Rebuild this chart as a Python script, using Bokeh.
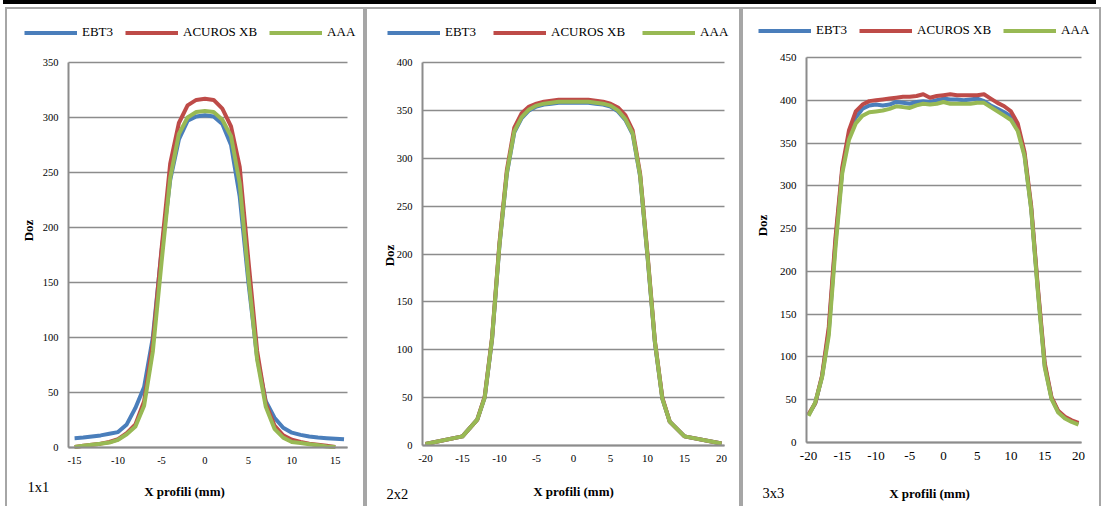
from math import pi
from bokeh.plotting import figure
from bokeh.models import Legend, LegendItem, Label, FixedTicker, Div, Range1d, Grid
from bokeh.layouts import row, column
from bokeh.embed import file_html
from bokeh.resources import INLINE

SERIES = ["EBT3", "ACUROS XB", "AAA"]
COLORS = ["#4a7ebb", "#be4b48", "#98b954"]
FONT = "Liberation Serif"

# ---- 1x1 field ----
x_1x1_ebt3 = list(range(-15, 17))
ebt3_1x1 = [8.5, 9, 10, 11, 12.5, 14, 21, 36, 55, 100, 178, 243, 280, 297, 301, 302,
            301, 294, 275, 228, 150, 82, 42, 27, 18, 13.5, 11.5, 10, 9, 8.5, 8, 7.5]
x_1x1 = list(range(-15, 16))
acuros_1x1 = [0.5, 1.5, 2.5, 3.5, 5, 7.5, 13, 21, 42, 95, 180, 258, 295, 311, 316, 317,
              316, 308, 292, 255, 170, 88, 40, 20, 11, 7, 5, 3.5, 2.5, 1.5, 0.5]
aaa_1x1 = [0.5, 1.5, 2.5, 3.5, 4.5, 7, 12, 19, 38, 87, 168, 245, 285, 300, 305, 306,
           305, 298, 283, 240, 155, 80, 37, 17, 9, 5, 4, 3, 2, 1, 0.5]

# ---- 2x2 field ----
x_2x2 = [-20, -15, -13, -12, -11, -10, -9, -8, -7, -6, -5, -4, -3, -2, -1, 0,
         1, 2, 3, 4, 5, 6, 7, 8, 9, 10, 11, 12, 13, 15, 20]
ebt3_2x2 = [1.5, 9.5, 27, 50, 111, 209, 284, 327, 342, 350, 354, 356, 357, 358, 358, 358,
            358, 358, 357, 356, 354, 349, 340, 325, 281, 197, 107, 49, 25, 9.5, 2]
acuros_2x2 = [1.5, 9.5, 27, 51, 113, 212, 288, 332, 347, 354, 357, 359, 360, 361, 361, 361,
              361, 361, 360, 359, 357, 353, 345, 329, 284, 200, 109, 50, 25, 9.5, 2]
aaa_2x2 = [1.5, 9.5, 27, 50, 112, 210, 285, 328, 343, 351, 355, 357, 358, 359, 359, 359,
           359, 359, 358, 357, 355, 350, 341, 326, 282, 198, 108, 49, 25, 9.5, 2]

# ---- 3x3 field ----
x_3x3 = list(range(-20, 21))
ebt3_3x3 = [32, 46, 77, 130, 235, 318, 360, 380, 390, 394, 395, 394, 395, 398, 397, 396,
            398, 399, 398, 400, 402, 401, 401, 400, 401, 402, 399, 394, 390, 386, 381,
            368, 337, 273, 177, 90, 52, 36, 29, 25, 22]
acuros_3x3 = [33, 46, 78, 135, 240, 322, 365, 387, 395, 399, 400, 401, 402, 403, 404, 404,
              405, 407, 403, 405, 406, 407, 406, 406, 406, 406, 407, 402, 397, 393, 387,
              373, 340, 276, 180, 93, 53, 37, 30, 26, 23]
aaa_3x3 = [31, 47, 76, 125, 228, 315, 354, 373, 382, 386, 387, 388, 390, 393, 392, 391,
           394, 396, 395, 396, 398, 396, 396, 396, 396, 397, 397, 392, 387, 382, 377,
           364, 335, 272, 175, 88, 51, 35, 28, 24, 21]

X_TITLE = "X profili (mm)"
Y_TITLE = "Doz"
TAGS = ["1x1", "2x2", "3x3"]

ticks_1x1 = [-15, -10, -5, 0, 5, 10, 15]
ticks_20 = [-20, -15, -10, -5, 0, 5, 10, 15, 20]
x_limits_1x1 = (-15.7, 16.4)
x_limits_2x2 = (-20.4, 20.4)
x_limits_3x3 = (-20.3, 20.45)
y_max = [350, 400, 450]

GRID = "#8c8c8c"
PANEL_STYLE = {"background-color": "white",
               "box-shadow": "inset 2px 2px 0 #a6a6a6, inset -2px 0 0 #a6a6a6"}
HAS_CROSS = "cross_bounds" in Grid.properties()


def panel(series, w, h, area, xlim, ymax, xticks, xtick_size, ytick_size, xstand,
          leg_loc, leg_spacing, xt_pos, yt_pos, tag, tag_pos):
    # area: plot-area box inside the canvas, in pixels (left, right, top, bottom)
    al, ar, at, ab = area
    sx = (ar - al) / (xlim[1] - xlim[0])
    sy = (ab - at) / ymax
    xr = Range1d(xlim[0] - al / sx, xlim[1] + (w - ar) / sx)
    yr = Range1d(-(h - ab) / sy, ymax + at / sy)
    p = figure(width=w, height=h, x_range=xr, y_range=yr,
               output_backend="svg", toolbar_location=None,
               min_border=0)
    p.styles = PANEL_STYLE
    p.outline_line_color = None
    p.background_fill_alpha = 0
    p.border_fill_alpha = 0

    yt = list(range(0, ymax + 1, 50))
    if HAS_CROSS:
        p.ygrid.bounds = (0, ymax)
        p.ygrid.cross_bounds = xlim
        p.ygrid.grid_line_color = GRID
        p.ygrid.grid_line_width = 1.5
        p.ygrid.ticker = FixedTicker(ticks=yt)
    else:
        p.ygrid.visible = False
        p.segment(x0=[xlim[0]] * len(yt), x1=[xlim[1]] * len(yt), y0=yt, y1=yt,
                  line_color=GRID, line_width=1.5)
    p.xgrid.visible = False

    rs = []
    for (xs, ys), c in zip(series, COLORS):
        rs.append(p.line(xs, ys, line_color=c, line_width=4, line_join="round"))
    leg = Legend(items=[LegendItem(label=s, renderers=[r]) for s, r in zip(SERIES, rs)],
                 orientation="horizontal", location=leg_loc, spacing=leg_spacing,
                 padding=0, margin=0, glyph_width=53, glyph_height=13,
                 label_height=13, label_standoff=5,
                 label_text_font=FONT, label_text_font_size="13px",
                 label_text_color="black",
                 border_line_color=None, background_fill_alpha=0)
    p.add_layout(leg, "center")

    p.xaxis.ticker = FixedTicker(ticks=xticks)
    p.yaxis.ticker = FixedTicker(ticks=yt)
    p.xaxis.major_label_overrides = {t: str(t) for t in xticks}
    p.xaxis.fixed_location = 0
    p.xaxis.bounds = xlim
    p.yaxis.fixed_location = xlim[0]
    p.yaxis.bounds = (0, ymax)
    for ax, size in ((p.xaxis, xtick_size), (p.yaxis, ytick_size)):
        ax.major_tick_line_color = None
        ax.minor_tick_line_color = None
        ax.major_tick_out = 0
        ax.major_tick_in = 0
        ax.axis_line_color = GRID
        ax.axis_line_width = 2
        ax.major_label_text_font = FONT
        ax.major_label_text_font_size = size
        ax.major_label_text_color = "black"
    p.xaxis.major_label_standoff = xstand
    p.yaxis.major_label_standoff = 10

    p.add_layout(Label(x=xt_pos[0], y=xt_pos[1], x_units="screen", y_units="screen",
                       text=X_TITLE, text_font=FONT, text_font_size="13px",
                       text_font_style="bold", text_align="center",
                       text_baseline="middle", text_color="black"))
    p.add_layout(Label(x=yt_pos[0], y=yt_pos[1], x_units="screen", y_units="screen",
                       text=Y_TITLE, text_font=FONT, text_font_size="13px",
                       text_font_style="bold", text_align="center",
                       text_baseline="middle", angle=pi / 2, text_color="black"))
    p.add_layout(Label(x=tag_pos[0], y=tag_pos[1], x_units="screen", y_units="screen",
                       text=tag, text_font=FONT, text_font_size="14.5px",
                       text_align="left", text_baseline="middle", text_color="black"))
    return p


p1 = panel([(x_1x1_ebt3, ebt3_1x1), (x_1x1, acuros_1x1), (x_1x1, aaa_1x1)],
           360, 499, (63, 342, 55, 440), x_limits_1x1, y_max[0], ticks_1x1,
           "10.5px", "10.5px", 9, (19, 466), 12, (179, 15), (23, 276), TAGS[0], (22, 20))
p2 = panel([(x_2x2, ebt3_2x2), (x_2x2, acuros_2x2), (x_2x2, aaa_2x2)],
           376, 499, (57, 359, 55, 438), x_limits_2x2, y_max[1], ticks_20,
           "11px", "10.5px", 9, (22, 466), 17, (208, 15), (24, 251), TAGS[1], (21, 13))
p3 = panel([(x_3x3, ebt3_3x3), (x_3x3, acuros_3x3), (x_3x3, aaa_3x3)],
           360, 499, (65, 340, 50, 435), x_limits_3x3, y_max[2], ticks_20,
           "13px", "11px", 9, (17, 468), 12, (188, 13), (21, 281), TAGS[2], (21, 14))

top = Div(text="", width=1093, height=2, margin=(0, 0, 0, 3),
          styles={"border": "2px solid black"})
layout = column(top, row(p1, p2, p3, spacing=0, margin=(3, 0, 0, 5)), spacing=0)

open("out.html", "w").write(file_html(layout, INLINE))
